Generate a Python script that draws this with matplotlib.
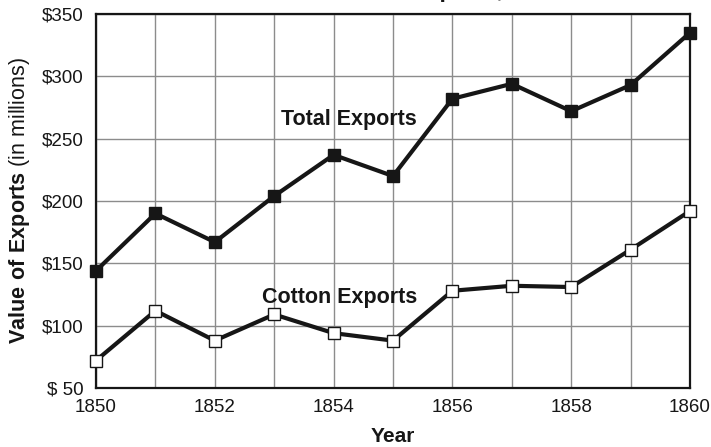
import matplotlib
matplotlib.use("Agg")
import matplotlib.pyplot as plt

plt.rcParams['font.family'] = ['Liberation Sans', 'DejaVu Sans']
plt.rcParams['mathtext.fontset'] = 'custom'
plt.rcParams['mathtext.rm'] = 'Liberation Sans'
plt.rcParams['mathtext.bf'] = 'Liberation Sans:bold'

# values (millions of dollars)
years = list(range(1850, 1861))
total_exports = [144, 190, 167, 204, 237, 220, 282, 294, 272, 293, 335]
cotton_exports = [72, 112, 88, 109, 94, 88, 128, 132, 131, 161, 192]

y_ticks = [50, 100, 150, 200, 250, 300, 350]
y_tick_labels = ["$ 50", "$100", "$150", "$200", "$250", "$300", "$350"]
x_tick_labels = [str(y) if y % 2 == 0 else "" for y in years]

title_text = "Cotton and Total Exports, 1850\u20131860"
title_prefix = "Cotton and Total Ex"

ink = "#161616"

fig = plt.figure(figsize=(7.11, 4.47), dpi=100)
ax = fig.add_axes([96/711, 1 - 388/447, (690 - 96)/711, (388 - 14)/447])

ax.plot(years, total_exports, color=ink, lw=3, marker='s', ms=8,
        mfc=ink, mec=ink, zorder=3, clip_on=False)
ax.plot(years, cotton_exports, color=ink, lw=3, marker='s', ms=8,
        mfc='white', mec=ink, mew=1, zorder=3, clip_on=False)

ax.set_xlim(1850, 1860)
ax.set_ylim(50, 350)
ax.set_xticks(years)
ax.set_xticklabels(x_tick_labels)
ax.set_yticks(y_ticks)
ax.set_yticklabels(y_tick_labels)
ax.tick_params(length=0, labelsize=13.5, colors=ink)
ax.tick_params(axis='y', pad=9)
ax.tick_params(axis='x', pad=8)
ax.grid(True, color='#8c8c8c', lw=1)
ax.set_axisbelow(True)
for s in ax.spines.values():
    s.set_linewidth(1.6)
    s.set_color(ink)

ax.set_xlabel("Year", fontsize=15, weight='bold', color=ink, labelpad=8)
ax.set_ylabel(r"$\mathbf{Value\ of\ Exports}$ (in millions)", fontsize=15.5,
              color=ink, labelpad=7)

ax.text(1854.25, 261, "Total Exports", fontsize=15.5, weight='bold',
        color=ink, ha='center', va='baseline')
ax.text(1854.1, 118.5, "Cotton Exports", fontsize=15.5, weight='bold',
        color=ink, ha='center', va='baseline')

# title sits mostly above the visible area, as in the source image
fig.canvas.draw()
r = fig.canvas.get_renderer()
tmp = fig.text(0, 0, title_prefix, fontsize=16.5, weight='bold')
w = tmp.get_window_extent(r).width
tmp.remove()
fig.text((440 - w) / 711, 1 + 2.5/447, title_text, fontsize=16.5,
         weight='bold', color=ink, ha='left', va='baseline')

fig.savefig("out.png", dpi=100)
